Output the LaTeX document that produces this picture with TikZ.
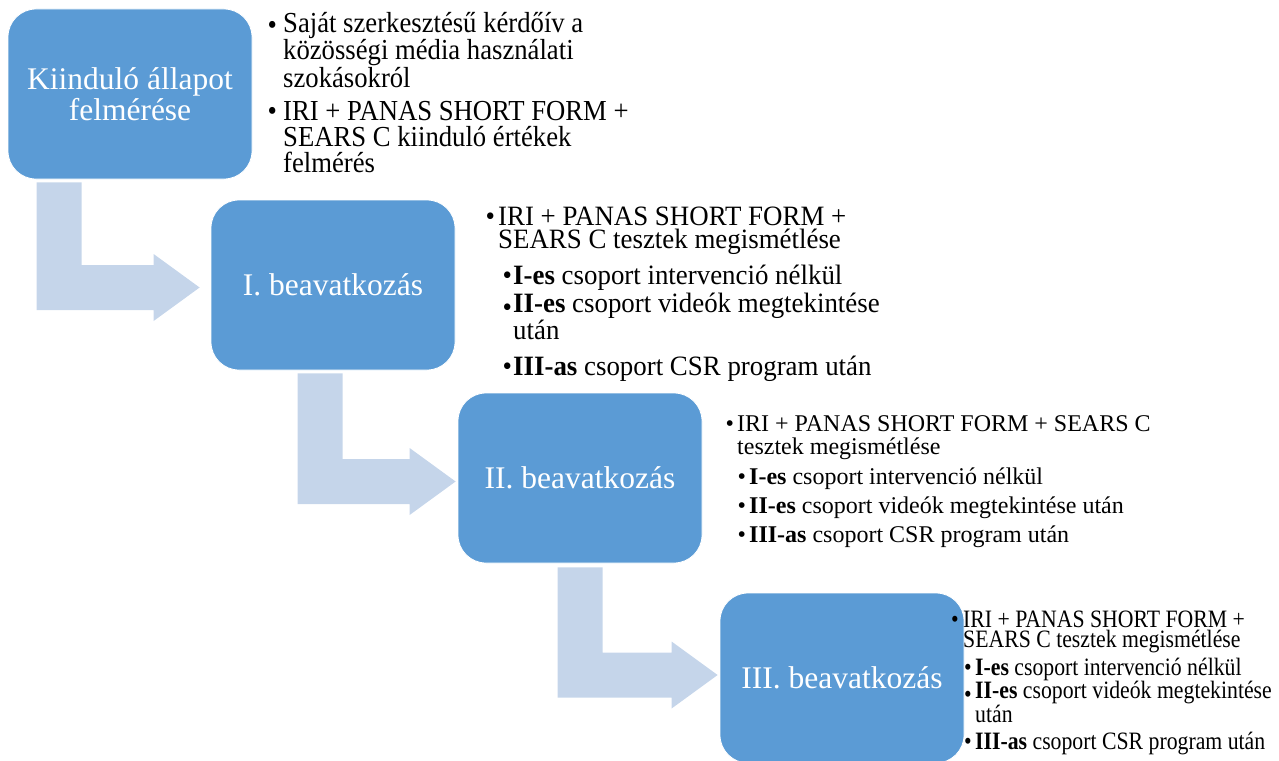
\documentclass[tikz,border=0pt]{standalone}
\usepackage{fontspec}
\setmainfont{Liberation Serif}
% narrower cuts of the serif for the longer bullet lists
\newfontfamily\listA[FakeStretch=0.92]{Liberation Serif}
\newfontfamily\listB[FakeStretch=0.96]{Liberation Serif}
\newfontfamily\listD[FakeStretch=0.87]{Liberation Serif}
\usetikzlibrary{calc}
\definecolor{boxblue}{RGB}{91,155,213}
\definecolor{arrowblue}{RGB}{197,213,234}

% bent arrow: #1 top-left corner of the stem, #2 arrow tip
\newcommand\phasearrow[2]{%
  \fill[arrowshape] (#1) -- ($(#1)+(45,0)$) -- ($(#1 |- #2)+(45,-22.5)$)
    -- ($(#2)+(-46,-22.5)$) -- ($(#2)+(-46,-33.5)$) -- (#2)
    -- ($(#2)+(-46,33.5)$) -- ($(#2)+(-46,22.5)$) -- ($(#1 |- #2)+(0,22.5)$) -- cycle;}

\begin{document}
\begin{tikzpicture}[x=1pt,y=-1pt,
  phase/.style={rectangle, rounded corners=28pt, fill=boxblue, draw=white,
    line width=0.8pt, minimum width=244pt, minimum height=170pt, inner sep=0pt,
    text=white, align=center, font=\fontsize{31.5}{31}\selectfont},
  arrowshape/.style={fill=arrowblue},
  itemtext/.style={anchor=base west, inner sep=0pt, align=left},
  bulletmark/.style={anchor=base west, inner sep=0pt},
  fa/.style={font=\listA\fontsize{29}{26}\selectfont},
  fb/.style={font=\listB\fontsize{28}{23.5}\selectfont},
  fc/.style={font=\fontsize{24}{23}\selectfont},
  fd/.style={font=\listD\fontsize{25}{20}\selectfont}]
\useasboundingbox (0,0) rectangle (1279,760);
\clip (0,0) rectangle (1279,760);

% phase boxes
\node[phase] (b1) at (130,94) {Kiinduló állapot\\felmérése};
\node[phase] (b2) at (333,285) {I. beavatkozás};
\node[phase] (b3) at (580,478) {II. beavatkozás};
\node[phase] (b4) at (842,678) {III. beavatkozás};

% stem tops and tips of the connecting arrows
\path (b1.south west) ++(29,3) coordinate (s1);
\path (b2.west) ++(-11,2.5) coordinate (e1);
\path (b2.south west) ++(87,3) coordinate (s2);
\path (b3.west) ++(-2,3.5) coordinate (e2);
\path (b3.south west) ++(100,4) coordinate (s3);
\path (b4.west) ++(-2,-3) coordinate (e3);
\phasearrow{s1}{e1}
\phasearrow{s2}{e2}
\phasearrow{s3}{e3}

% notes beside the starting box (multi-line texts sit on their last line)
\node[bulletmark,fa] (p1a) at (267.5,35) {•};
\node[itemtext,fa] (t1a) at (283,87) {Saját szerkesztésű kérdőív a\\közösségi média használati\\szokásokról};
\node[bulletmark,fa] (p1b) at (267.5,120) {•};
\node[itemtext,fa] (t1b) at (283,172) {IRI + PANAS SHORT FORM +\\SEARS C kiinduló értékek\\felmérés};

% notes beside the first intervention
\node[bulletmark,fb] (p2a) at (485.5,225) {•};
\node[itemtext,fb] (t2a) at (498,248.5) {IRI + PANAS SHORT FORM +\\SEARS C tesztek megismétlése};
\node[bulletmark,fb] (p2b) at (502.5,284) {•};
\node[itemtext,fb] (t2b) at (513,284) {\textbf{I-es} csoport intervenció nélkül};
\node[bulletmark,fb] (p2c) at (502.5,316) {•};
\node[itemtext,fb] (t2c) at (513,339.5) {\textbf{II-es} csoport videók megtekintése\\után};
\node[bulletmark,fb] (p2d) at (502.5,375) {•};
\node[itemtext,fb] (t2d) at (513,375) {\textbf{III-as} csoport CSR program után};

% notes beside the second intervention
\node[bulletmark,fc] (p3a) at (725.5,431) {•};
\node[itemtext,fc] (t3a) at (737,454) {IRI + PANAS SHORT FORM + SEARS C\\tesztek megismétlése};
\node[bulletmark,fc] (p3b) at (737.5,484) {•};
\node[itemtext,fc] (t3b) at (749,484) {\textbf{I-es} csoport intervenció nélkül};
\node[bulletmark,fc] (p3c) at (737.5,513) {•};
\node[itemtext,fc] (t3c) at (749,513) {\textbf{II-es} csoport videók megtekintése után};
\node[bulletmark,fc] (p3d) at (737.5,542) {•};
\node[itemtext,fc] (t3d) at (749,542) {\textbf{III-as} csoport CSR program után};

% notes beside the third intervention
\node[bulletmark,fd] (p4a) at (951,627) {•};
\node[itemtext,fd] (t4a) at (963,647) {IRI + PANAS SHORT FORM +\\SEARS C tesztek megismétlése};
\node[bulletmark,fd] (p4b) at (964,675) {•};
\node[itemtext,fd] (t4b) at (975,675) {\textbf{I-es} csoport intervenció nélkül};
\node[bulletmark,fd] (p4c) at (964,702) {•};
\node[itemtext,fd] (t4c) at (975,722) {\textbf{II-es} csoport videók megtekintése\\után};
\node[bulletmark,fd] (p4d) at (964,749) {•};
\node[itemtext,fd] (t4d) at (975,749) {\textbf{III-as} csoport CSR program után};
\end{tikzpicture}
\end{document}
